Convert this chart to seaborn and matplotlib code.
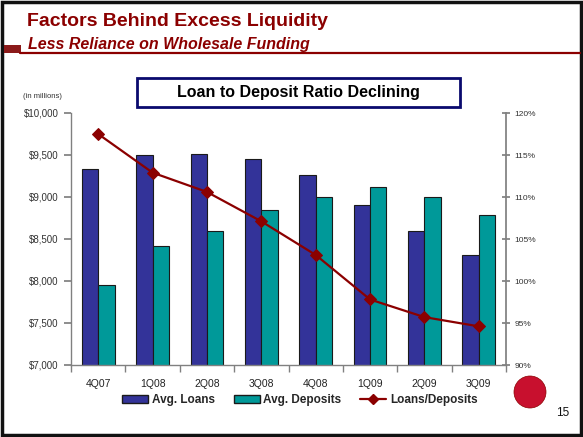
import matplotlib
matplotlib.use("Agg")
import matplotlib.pyplot as plt
import seaborn as sns
import pandas as pd
from matplotlib.patches import Rectangle, Ellipse
from matplotlib.lines import Line2D
from matplotlib.ticker import FuncFormatter, MultipleLocator

quarters = ["4Q07", "1Q08", "2Q08", "3Q08", "4Q08", "1Q09", "2Q09", "3Q09"]
avg_loans = [9330, 9495, 9510, 9455, 9265, 8910, 8600, 8310]
avg_deposits = [7950, 8415, 8600, 8840, 8995, 9120, 8995, 8790]
loans_to_deposits = [117.5, 112.9, 110.6, 107.1, 103.1, 97.8, 95.7, 94.6]

sns.set_theme(style="white")
plt.rcParams['font.family'] = ['Liberation Sans', 'DejaVu Sans']

W, H = 583, 437
fig = plt.figure(figsize=(W / 100, H / 100), dpi=100)

def fx(x):
    return x / W

def fy(y):
    return 1 - y / H

# slide frame
fig.patches.append(Rectangle((fx(2), fy(435)), fx(579), 433 / H, transform=fig.transFigure,
                             fill=False, edgecolor="#111111", linewidth=2.5))
# header
fig.text(fx(27), fy(22), "Factors Behind Excess Liquidity", color="#8B0000", fontsize=14,
         fontweight="bold", va="center", ha="left")
fig.text(fx(28), fy(45), "Less Reliance on Wholesale Funding", color="#8B0000", fontsize=11.5,
         fontweight="bold", fontstyle="italic", va="center", ha="left")
fig.lines.append(Line2D([fx(20), fx(580)], [fy(52.5), fy(52.5)], transform=fig.transFigure,
                        color="#8B0000", linewidth=1.6))
fig.patches.append(Rectangle((fx(4), fy(53)), fx(17), 8 / H, transform=fig.transFigure,
                             facecolor="#8B1A1A", edgecolor="none"))

# chart title box
fig.patches.append(Rectangle((fx(137), fy(107)), fx(323), 29 / H, transform=fig.transFigure,
                             facecolor="white", edgecolor="#0A0A6E", linewidth=2))
fig.text(fx(298), fy(92), "Loan to Deposit Ratio Declining", fontsize=11.5, fontweight="bold",
         ha="center", va="center", color="black")
fig.text(fx(23), fy(97), "(in millions)", fontsize=5.5, ha="left", va="center", color="#333333")

ax = fig.add_axes([fx(71), fy(365), fx(506 - 71), (365 - 113) / H])

df = pd.DataFrame({
    "Quarter": quarters * 2,
    "Value": avg_loans + avg_deposits,
    "Series": ["Avg. Loans"] * len(quarters) + ["Avg. Deposits"] * len(quarters),
})
sns.barplot(data=df, x="Quarter", y="Value", hue="Series", order=quarters,
            palette={"Avg. Loans": "#333399", "Avg. Deposits": "#009999"},
            width=0.6, edgecolor="#1a1a1a", linewidth=0.8, ax=ax, legend=False, saturation=1)

ax.set_ylim(7000, 10000)
ax.set_xlim(-0.5, 7.5)
ax.yaxis.set_major_locator(MultipleLocator(500))
ax.yaxis.set_major_formatter(FuncFormatter(lambda v, p: f"${v:,.0f}"))
ax.set_xlabel("")
ax.set_ylabel("")
for s in ["top", "right"]:
    ax.spines[s].set_visible(False)
for s in ["left", "bottom"]:
    ax.spines[s].set_color("#808080")
    ax.spines[s].set_linewidth(1)
ax.tick_params(axis="y", which="major", left=True, length=5, color="#808080", labelsize=7,
               labelcolor="#333333", pad=4)
ax.tick_params(axis="x", which="major", bottom=False, length=0, labelsize=7.5,
               labelcolor="#222222", pad=10)
ax.set_xticks([i + 0.5 for i in range(-1, 8)], minor=True)
ax.tick_params(axis="x", which="minor", bottom=True, length=5, color="#808080", direction="out")
ax.grid(False)

ax2 = ax.twinx()
sns.lineplot(x=list(range(len(quarters))), y=loans_to_deposits, ax=ax2, color="#8B0000",
             linewidth=1.6, marker="D", markersize=6, markeredgecolor="#8B0000")
ax2.set_ylim(90, 120)
ax2.yaxis.set_major_locator(MultipleLocator(5))
ax2.yaxis.set_major_formatter(FuncFormatter(lambda v, p: f"{v:.0f}%"))
for s in ["top", "left", "bottom"]:
    ax2.spines[s].set_visible(False)
ax2.spines["right"].set_color("#808080")
ax2.tick_params(axis="y", right=True, length=6, direction="inout", color="#808080",
                labelsize=6, labelcolor="#333333", pad=3)
ax2.grid(False)

# legend
handles = [
    Rectangle((0, 0), 1, 1, facecolor="#333399", edgecolor="#1a1a1a"),
    Rectangle((0, 0), 1, 1, facecolor="#009999", edgecolor="#1a1a1a"),
    Line2D([0], [0], color="#8B0000", linewidth=1.6, marker="D", markersize=5),
]
leg = fig.legend(handles, ["Avg. Loans", "Avg. Deposits", "Loans/Deposits"], loc="center",
                 bbox_to_anchor=(fx(300), fy(400)), ncol=3, frameon=False,
                 prop={"weight": "bold", "size": 8.5}, handlelength=2.2, handletextpad=0.3,
                 columnspacing=1.6)

# decorative ball and page number
fig.patches.append(Ellipse((fx(530), fy(392)), fx(32), 32 / H, transform=fig.transFigure,
                           facecolor="#C8102E", edgecolor="#8B0000", linewidth=0.5))
fig.text(fx(563), fy(413), "15", fontsize=8.5, ha="center", va="center", color="#111111")

fig.savefig("out.png", dpi=100)
